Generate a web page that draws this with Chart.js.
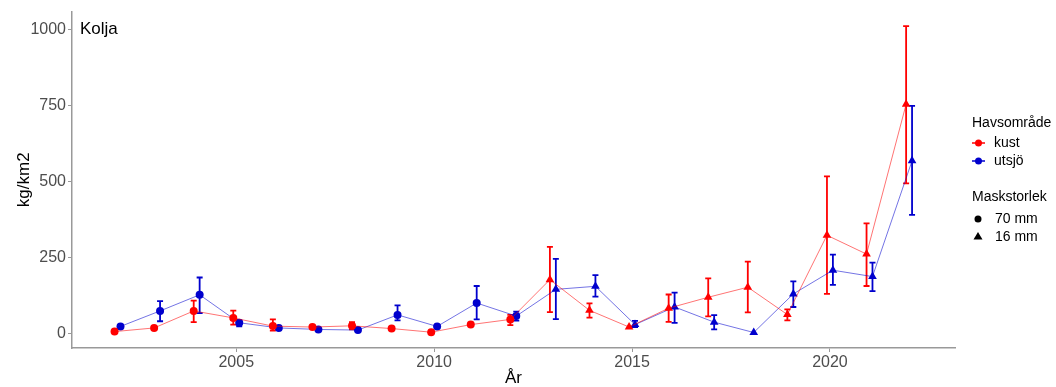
<!DOCTYPE html>
<html>
<head>
<meta charset="utf-8">
<script src="https://cdn.jsdelivr.net/npm/chart.js@4/dist/chart.umd.min.js"></script>
<style>
    html, body { margin: 0; padding: 0; background: #fff; }
    #wrap { width: 1056px; height: 387px; }
</style>
</head>
<body>
<div id="wrap"><canvas id="chart" width="1056" height="387"></canvas></div>
<script>
// Kolja, kg/km2 per year, two sea areas
const years = [2002, 2003, 2004, 2005, 2006, 2007, 2008, 2009, 2010, 2011, 2012,
               2013, 2014, 2015, 2016, 2017, 2018, 2019, 2020, 2021, 2022];
const maskstorlek = ['70 mm', '70 mm', '70 mm', '70 mm', '70 mm', '70 mm', '70 mm', '70 mm', '70 mm', '70 mm', '70 mm',
                     '16 mm', '16 mm', '16 mm', '16 mm', '16 mm', '16 mm', '16 mm', '16 mm', '16 mm', '16 mm'];

const kust     = [5, 17, 73, 50, 23, 20, 24, 15, 3, 28, 45, 176, 75, 20, 82, 118, 151, 61, 322, 260, 753];
const kustLow  = [null, null, 36, 28, 8, null, 12, null, null, null, 26, 69, 51, null, 37, 55, 68, 42, 129, 155, 493];
const kustHigh = [null, null, 107, 74, 45, null, 36, null, null, null, 60, 284, 98, null, 127, 180, 235, 78, 516, 361, 1010];

const utsjo     = [22, 73, 126, 34, 17, 12, 10, 60, 22, 99, 56, 144, 154, 28, 86, 36, 2, 129, 207, 186, 567];
const utsjoLow  = [null, 39, 66, 22, null, null, null, 42, null, 45, 41, 46, 120, 20, 34, 12, null, 86, 159, 138, 389];
const utsjoHigh = [null, 105, 183, 42, null, null, null, 91, null, 155, 71, 244, 191, 40, 133, 59, null, 170, 258, 232, 748];

const xTicks = [2005, 2010, 2015, 2020];
const yTicks = [0, 250, 500, 750, 1000];

const RED = '#ff0000';
const BLUE = '#0000cd';
const DODGE = 0.075;
const FONT = '"Liberation Sans", Arial, sans-serif';

const shapeFor = m => m === '16 mm' ? 'triangle' : 'circle';

function makeSeries(label, values, low, high, color, lineColor, shift) {
    return {
        label: label,
        data: years.map((y, i) => ({ x: y + shift, y: values[i], lo: low[i], hi: high[i] })),
        borderColor: lineColor,
        backgroundColor: color,
        borderWidth: 1,
        pointStyle: maskstorlek.map(shapeFor),
        pointRadius: maskstorlek.map(m => m === '16 mm' ? 5 : 4),
        pointBorderWidth: 0,
        pointBackgroundColor: color,
        errColor: color,
        tension: 0
    };
}

// error bars, drawn under the lines and points
const errorBars = {
    id: 'errorBars',
    beforeDatasetsDraw(chart) {
        const ctx = chart.ctx;
        const xs = chart.scales.x;
        const ys = chart.scales.y;
        chart.data.datasets.forEach(ds => {
            ctx.save();
            ctx.strokeStyle = ds.errColor;
            ctx.lineWidth = 1.8;
            ds.data.forEach(d => {
                if (d.lo == null || d.hi == null) return;
                const px = xs.getPixelForValue(d.x);
                const top = ys.getPixelForValue(d.hi);
                const bot = ys.getPixelForValue(d.lo);
                ctx.beginPath();
                ctx.moveTo(px, top); ctx.lineTo(px, bot);
                ctx.moveTo(px - 3, top); ctx.lineTo(px + 3, top);
                ctx.moveTo(px - 3, bot); ctx.lineTo(px + 3, bot);
                ctx.stroke();
            });
            ctx.restore();
        });
    }
};

// panel label and the two ggplot-style legends
const extras = {
    id: 'extras',
    afterDraw(chart) {
        const ctx = chart.ctx;
        ctx.save();
        ctx.fillStyle = '#000';
        ctx.textBaseline = 'middle';
        ctx.textAlign = 'left';
        ctx.font = '17px ' + FONT;
        ctx.fillText('Kolja', chart.chartArea.left + 8, 29);

        const lx = 972;
        ctx.font = '14px ' + FONT;
        ctx.fillText('Havsområde', lx, 123);
        [['kust', RED, 143], ['utsjö', BLUE, 161]].forEach(([name, col, y]) => {
            ctx.strokeStyle = col;
            ctx.lineWidth = 1.5;
            ctx.beginPath(); ctx.moveTo(lx, y); ctx.lineTo(lx + 13, y); ctx.stroke();
            ctx.fillStyle = col;
            ctx.beginPath(); ctx.arc(lx + 6.5, y, 3.5, 0, Math.PI * 2); ctx.fill();
            ctx.fillStyle = '#000';
            ctx.fillText(name, lx + 22, y);
        });

        ctx.fillText('Maskstorlek', lx, 197);
        ctx.beginPath(); ctx.arc(lx + 6, 219, 3.5, 0, Math.PI * 2); ctx.fill();
        ctx.fillText('70 mm', lx + 23, 219);
        ctx.beginPath();
        ctx.moveTo(lx + 6, 232); ctx.lineTo(lx + 10.5, 239.5); ctx.lineTo(lx + 1.5, 239.5);
        ctx.closePath(); ctx.fill();
        ctx.fillText('16 mm', lx + 23, 237);
        ctx.restore();
    }
};

new Chart(document.getElementById('chart'), {
    type: 'line',
    data: {
        datasets: [
            makeSeries('kust', kust, kustLow, kustHigh, RED, 'rgba(255,0,0,0.55)', -DODGE),
            makeSeries('utsjö', utsjo, utsjoLow, utsjoHigh, BLUE, 'rgba(0,0,205,0.55)', DODGE)
        ]
    },
    options: {
        responsive: false,
        animation: false,
        layout: { padding: { top: 8, right: 101, left: 0, bottom: 0 } },
        plugins: {
            legend: { display: false },
            tooltip: { enabled: false }
        },
        scales: {
            x: {
                type: 'linear',
                min: 2000.85,
                max: 2023.16,
                afterBuildTicks: s => { s.ticks = xTicks.map(v => ({ value: v })); },
                afterFit: s => { s.height = 39; },
                ticks: {
                    color: '#4d4d4d',
                    font: { size: 16, family: FONT },
                    padding: 1,
                    maxRotation: 0,
                    autoSkip: false,
                    callback: v => String(v)
                },
                grid: { drawOnChartArea: false, tickLength: 4, color: '#999', lineWidth: 1 },
                border: { color: '#999', width: 1.5 },
                title: {
                    display: true, text: 'År', color: '#000',
                    font: { size: 17, family: FONT, lineHeight: 1 },
                    padding: 0
                }
            },
            y: {
                min: -49,
                max: 1058,
                afterBuildTicks: s => { s.ticks = yTicks.map(v => ({ value: v })); },
                afterFit: s => { s.width = 72; },
                ticks: {
                    color: '#4d4d4d',
                    font: { size: 16, family: FONT },
                    padding: 2,
                    callback: v => String(v)
                },
                grid: { drawOnChartArea: false, tickLength: 4, color: '#999', lineWidth: 1 },
                border: { color: '#999', width: 1.5 },
                title: {
                    display: true, text: 'kg/km2', color: '#000',
                    font: { size: 17, family: FONT, lineHeight: 1 },
                    padding: { top: 16, bottom: 0 }
                }
            }
        }
    },
    plugins: [errorBars, extras]
});
</script>
</body>
</html>
